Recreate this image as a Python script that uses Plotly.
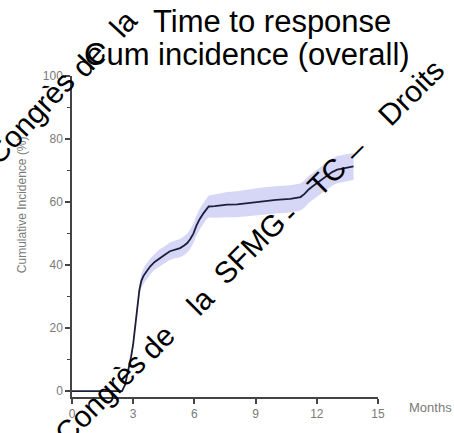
import plotly.graph_objects as go

# Cumulative incidence of response over time (months)
months = [0, 2.45, 2.6, 2.75, 2.9, 3.0, 3.1, 3.2, 3.3, 3.4, 3.5, 3.65, 3.85, 4.05,
          4.3, 4.55, 4.8, 5.05, 5.3, 5.5, 5.65, 5.8, 5.95, 6.1, 6.25, 6.45, 6.6,
          6.7, 7.0, 7.6, 8.1, 8.7, 9.4, 10.0, 10.7, 11.2, 11.4, 11.6, 11.8, 12.0,
          12.25, 12.5, 12.75, 13.0, 13.4, 13.8]
cum_incidence = [0, 0, 2, 6, 11, 15, 21, 28, 32, 35, 36.5, 38, 39.7, 41,
                 42.3, 43.3, 44.4, 45, 45.4, 46.2, 47, 48.3, 50, 52.5, 54.5, 56.5, 58,
                 58.6, 58.7, 59.2, 59.3, 59.8, 60.4, 60.7, 61, 61.6, 62.6, 64, 65, 66,
                 67, 68.5, 69.5, 70.3, 70.8, 71.3]
ci_lower = [0, 0, 1.6, 5.3, 10, 13.8, 19.6, 26.3, 30.2, 32.8, 34, 35.5, 37.2, 38.5,
            39.6, 40.6, 41.6, 42.2, 42.5, 43.2, 44, 45.2, 46.9, 49.3, 51.2, 53.2, 54.6,
            55.1, 55, 55.2, 55.2, 55.6, 56.1, 56.4, 56.7, 57.3, 58.3, 59.7, 60.7, 61.7,
            62.7, 64.2, 65.2, 66, 66.5, 67]
ci_upper = [0, 0, 2.4, 6.7, 12, 16.2, 22.4, 29.7, 33.8, 37.2, 39, 40.5, 42.2, 43.5,
            45, 46, 47.2, 47.8, 48.3, 49.2, 50, 51.4, 53.1, 55.7, 57.8, 59.8, 61.4,
            62.1, 62.4, 63.2, 63.4, 64, 64.7, 65, 65.3, 65.9, 66.9, 68.3, 69.3, 70.3,
            71.3, 72.8, 73.8, 74.6, 75.1, 75.6]

x_ticks = [0, 3, 6, 9, 12, 15]
y_ticks = [0, 20, 40, 60, 80, 100]

W, H = 454, 433
ML, MR, MT, MB = 72, 76, 76, 29
PW, PH = W - ML - MR, H - MT - MB


def px(x):
    return (x - ML) / PW


def py(y):
    return (H - MB - y) / PH


fig = go.Figure()

# confidence band
fig.add_trace(go.Scatter(x=months, y=ci_upper, mode="lines", line=dict(width=0),
                         hoverinfo="skip", showlegend=False))
fig.add_trace(go.Scatter(x=months, y=ci_lower, mode="lines", line=dict(width=0),
                         fill="tonexty", fillcolor="rgba(120,120,230,0.3)",
                         hoverinfo="skip", showlegend=False))
# estimate
fig.add_trace(go.Scatter(x=months, y=cum_incidence, mode="lines",
                         line=dict(color="#1e1e3c", width=1.8), showlegend=False))

tick_font = dict(family="Liberation Sans, Arial", size=12, color="#7a7a7a")
axis_col = "#444444"

fig.update_xaxes(range=[0, 15], tickvals=x_ticks, ticktext=[str(v) for v in x_ticks],
                 showline=True, linecolor=axis_col, linewidth=1.5,
                 ticks="outside", ticklen=5, tickwidth=1.5, tickcolor=axis_col,
                 showgrid=False, zeroline=False, tickfont=tick_font)
fig.update_yaxes(range=[-1.86, 100.01], tickvals=y_ticks,
                 showline=True, linecolor=axis_col, linewidth=1.5,
                 ticks="outside", ticklen=5, tickwidth=1.5, tickcolor=axis_col,
                 minor=dict(tickvals=[10, 30, 50, 70, 90], ticks="outside", ticklen=3,
                            tickwidth=1.2, tickcolor=axis_col),
                 showgrid=False, zeroline=False, tickfont=tick_font)

annotations = [
    dict(x=px(272), y=py(20), text="Time to response",
         font=dict(family="Liberation Sans, Arial", size=31, color="black")),
    dict(x=px(247), y=py(54), text="Cum incidence (overall)",
         font=dict(family="Liberation Sans, Arial", size=31, color="black")),
    dict(x=px(22), y=py(208), text="Cumulative Incidence (%)", textangle=-90,
         font=dict(family="Liberation Sans, Arial", size=12, color="#7a7a7a")),
    dict(x=px(430), y=py(415), text="Months",
         font=dict(family="Liberation Sans, Arial", size=13, color="#7a7a7a")),
]

# diagonal watermark text
wm_font = dict(family="Liberation Sans, Arial", size=30, color="black")
wm_words = [
    ("Congrès", 30, 118, -47), ("de", 88, 60, -47), ("la", 123, 22, -47),
    ("Congrès", 100, 406, -45), ("de", 157, 348, -45), ("la", 200, 306, -45),
    ("SFMG", 249, 252, -45), ("-", 290, 217, -45), ("TC", 327, 179, -45),
    ("–", 355, 152, -45), ("Droits", 411, 93, -45),
]
for word, wx, wy, ang in wm_words:
    annotations.append(dict(x=px(wx), y=py(wy), text=word, textangle=ang, font=wm_font))

for a in annotations:
    a.update(xref="paper", yref="paper", showarrow=False,
             xanchor="center", yanchor="middle")

fig.update_layout(width=W, height=H, margin=dict(l=ML, r=MR, t=MT, b=MB),
                  plot_bgcolor="white", paper_bgcolor="white",
                  annotations=annotations, showlegend=False)

fig.write_html("out.html")
